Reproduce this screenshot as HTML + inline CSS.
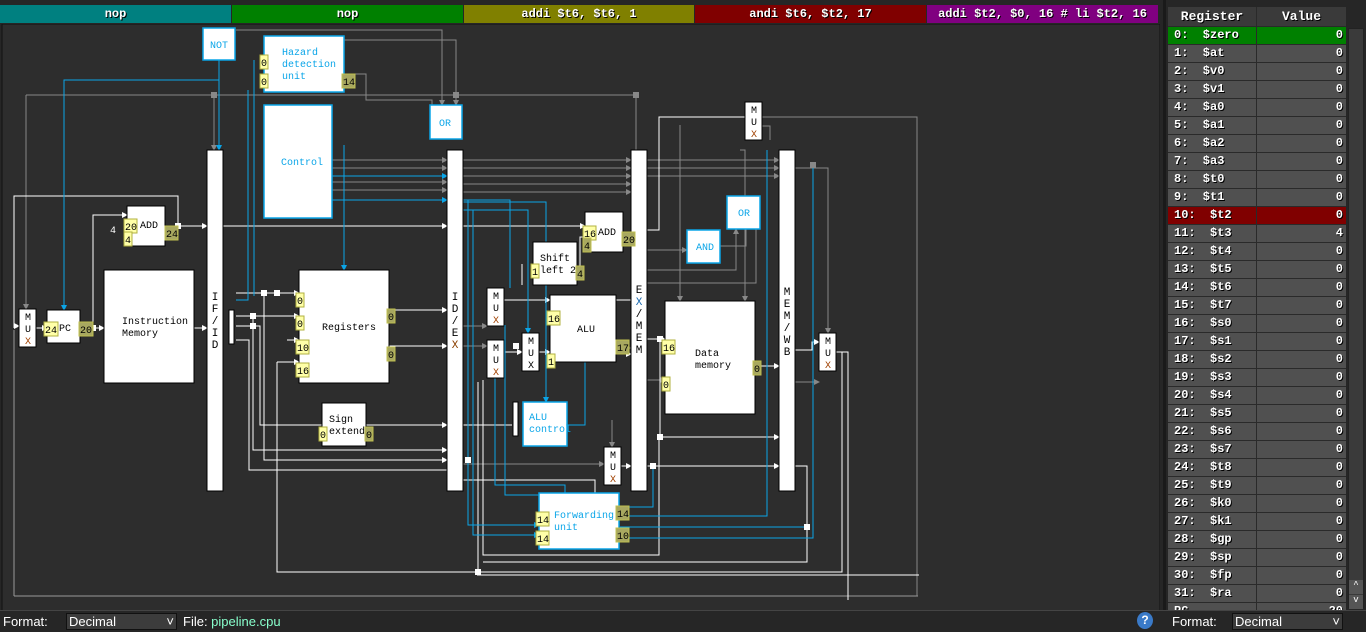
<!DOCTYPE html>
<html><head><meta charset="utf-8"><style>
*{margin:0;padding:0;box-sizing:border-box}
body{width:1366px;height:632px;background:#262626;overflow:hidden;font-family:"Liberation Mono",monospace;position:relative}
.seg{position:absolute;top:5px;height:18px;color:#fff;font:bold 12px "Liberation Mono",monospace;text-align:center;line-height:18px;text-shadow:1px 1px 0 #000}
#reg{position:absolute;left:1168px;top:7px;width:178px}
.row{height:18px;display:flex;border-bottom:1px solid #2a2a2a;font:bold 12px "Liberation Mono",monospace;color:#fff;text-shadow:1px 1px 0 #000;line-height:17px}
.row div:first-child{width:89px;padding-left:6px;border-right:1px solid #2a2a2a}
.row div:last-child{flex:1;text-align:right;padding-right:3px}
.bot{position:absolute;top:612px;height:20px;color:#fff;font:13px "Liberation Sans",sans-serif;line-height:20px}
.sel{position:absolute;top:613px;height:17px;background:#3c3c3c;border:1px solid #111;color:#fff;font:13px "Liberation Sans",sans-serif;line-height:15px;padding-left:2px}
</style></head><body>
<div class="seg" style="left:0;width:231px;background:#008080">nop</div>
<div class="seg" style="left:232px;width:231px;background:#008000">nop</div>
<div class="seg" style="left:464px;width:230px;background:#808000">addi $t6, $t6, 1</div>
<div class="seg" style="left:695px;width:231px;background:#800000">andi $t6, $t2, 17</div>
<div class="seg" style="left:927px;width:231px;background:#800080">addi $t2, $0, 16 # li $t2, 16</div>

<svg width="1160" height="588" style="position:absolute;left:0;top:24px" viewBox="0 24 1160 588" font-family="Liberation Mono, monospace" font-size="10">
<defs>
<marker id="aw" markerWidth="6" markerHeight="6" refX="5" refY="3" orient="auto"><path d="M0,0L6,3L0,6z" fill="#fff"/></marker>
<marker id="ag" markerWidth="6" markerHeight="6" refX="5" refY="3" orient="auto"><path d="M0,0L6,3L0,6z" fill="#888"/></marker>
<marker id="ab" markerWidth="6" markerHeight="6" refX="5" refY="3" orient="auto"><path d="M0,0L6,3L0,6z" fill="#0aa5e8"/></marker>
</defs>
<rect x="2" y="24" width="1158" height="588" fill="#2d2d2d" stroke="#111"/>
<line x1="14" y1="596" x2="918" y2="596" stroke="#999" stroke-width="1"/>
<line x1="14" y1="330" x2="14" y2="596" stroke="#999" stroke-width="1"/>
<!-- gray wires -->
<g fill="none" stroke="#888" stroke-width="1">
<polyline points="917,596 917,117 760,117"/>
<polyline points="26,95 636,95 636,150"/>
<polyline points="26,95 26,309" marker-end="url(#ag)"/>
<polyline points="236,30 442,30 442,105" marker-end="url(#ag)"/>
<polyline points="344,40 456,40 456,105" marker-end="url(#ag)"/>
<polyline points="214,95 214,150" marker-end="url(#ag)"/>
<polyline points="344,74 366,74 366,100 432,100 432,105"/>
<polyline points="332,160 447,160" marker-end="url(#ag)"/>
<polyline points="332,168 447,168" marker-end="url(#ag)"/>
<polyline points="332,182 447,182" marker-end="url(#ag)"/>
<polyline points="332,190 447,190" marker-end="url(#ag)"/>
<polyline points="463,160 631,160" marker-end="url(#ag)"/>
<polyline points="463,168 631,168" marker-end="url(#ag)"/>
<polyline points="463,176 631,176" marker-end="url(#ag)"/>
<polyline points="463,184 631,184" marker-end="url(#ag)"/>
<polyline points="463,192 631,192" marker-end="url(#ag)"/>
<polyline points="647,160 779,160" marker-end="url(#ag)"/>
<polyline points="647,168 779,168" marker-end="url(#ag)"/>
<polyline points="647,176 779,176" marker-end="url(#ag)"/>
<polyline points="795,168 828,168 828,333" marker-end="url(#ag)"/>
<polyline points="616,348 631,348"/>
<polyline points="647,250 687,250" marker-end="url(#ag)"/>
<polyline points="647,270 736,270 736,229" marker-end="url(#ag)"/>
<polyline points="720,246 746,246 746,229"/>
<polyline points="647,283 756,283 756,229"/>
<polyline points="680,125 680,301" marker-end="url(#ag)"/>
<polyline points="740,150 745,150 745,301" marker-end="url(#ag)"/>
<polyline points="463,326 487,326" marker-end="url(#ag)"/>
<polyline points="463,346 487,346" marker-end="url(#ag)"/>
<polyline points="463,464 604,464" marker-end="url(#ag)"/>
<polyline points="612,420 612,447" marker-end="url(#ag)"/>
<polyline points="647,380 665,380" marker-end="url(#ag)"/>
<polyline points="795,382 819,382" marker-end="url(#ag)"/>
<polyline points="760,102 760,126 770,126 770,140"/>
</g>
<!-- white wires -->
<g fill="none" stroke="#fff" stroke-width="1">
<polyline points="14,328 14,196 178,196 178,226"/>
<polyline points="14,326 19,326" marker-end="url(#aw)"/>
<polyline points="36,328 47,328" marker-end="url(#aw)"/>
<polyline points="80,328 104,328" marker-end="url(#aw)"/>
<polyline points="93,328 93,215 127,215" marker-end="url(#aw)"/>
<polyline points="165,226 207,226" marker-end="url(#aw)"/>
<polyline points="194,328 207,328" marker-end="url(#aw)"/>
<polyline points="223,226 447,226" marker-end="url(#aw)"/>
<polyline points="463,226 585,226" marker-end="url(#aw)"/>
<polyline points="236,293 299,293" marker-end="url(#aw)"/>
<polyline points="236,316 299,316" marker-end="url(#aw)"/>
<polyline points="236,326 260,326 260,425 322,425"/>
<polyline points="236,340 249,340 249,470 447,470"/>
<polyline points="287,340 299,340" marker-end="url(#aw)"/>
<polyline points="277,362 299,362" marker-end="url(#aw)"/>
<polyline points="277,362 277,572 842,572 842,352 819,352"/>
<polyline points="264,293 264,460 447,460" marker-end="url(#aw)"/>
<polyline points="253,316 253,450 447,450" marker-end="url(#aw)"/>
<polyline points="389,310 447,310" marker-end="url(#aw)"/>
<polyline points="389,346 447,346" marker-end="url(#aw)"/>
<polyline points="366,425 447,425" marker-end="url(#aw)"/>
<polyline points="463,425 512,425"/>
<polyline points="504,300 550,300" marker-end="url(#aw)"/>
<polyline points="504,352 522,352" marker-end="url(#aw)"/>
<polyline points="539,352 550,352" marker-end="url(#aw)"/>
<polyline points="463,480 595,480 595,520 544,520"/>
<polyline points="483,380 483,555 659,555 659,437"/>
<polyline points="478,382 478,572"/>
<polyline points="616,354 631,354" marker-end="url(#aw)"/>
<polyline points="522,264 522,285"/>
<polyline points="577,272 580,272 580,237 585,237"/>
<polyline points="621,466 631,466" marker-end="url(#aw)"/>
<polyline points="647,466 779,466" marker-end="url(#aw)"/>
<polyline points="795,466 807,466 807,562 483,562"/>
<polyline points="647,339 665,339" marker-end="url(#aw)"/>
<polyline points="660,339 660,437 779,437" marker-end="url(#aw)"/>
<polyline points="755,366 779,366" marker-end="url(#aw)"/>
<polyline points="647,230 659,230 659,117 745,117"/>
<polyline points="795,350 812,350 812,342 819,342" marker-end="url(#aw)"/>
<polyline points="836,352 848,352 848,600"/>
<polyline points="477,575 919,575"/>
<polyline points="616,300 631,300"/>
</g>
<!-- blue wires -->
<g fill="none" stroke="#0aa5e8" stroke-width="1">
<polyline points="219,60 219,80 64,80 64,310" marker-end="url(#ab)"/>
<polyline points="219,80 219,150" marker-end="url(#ab)"/>
<polyline points="248,90 248,300 236,300"/>
<polyline points="254,60 254,296"/>
<polyline points="344,145 344,270" marker-end="url(#ab)"/>
<polyline points="332,176 447,176" marker-end="url(#ab)"/>
<polyline points="332,200 447,200" marker-end="url(#ab)"/>
<polyline points="463,200 510,200 510,288"/>
<polyline points="463,210 528,210 528,333" marker-end="url(#ab)"/>
<polyline points="463,202 546,202 546,402" marker-end="url(#ab)"/>
<polyline points="468,200 468,525 539,525" marker-end="url(#ab)"/>
<polyline points="473,210 473,535 539,535" marker-end="url(#ab)"/>
<polyline points="495,378 495,485 565,485 565,493"/>
<polyline points="505,325 505,495 590,495 590,493"/>
<polyline points="567,425 585,425 585,362"/>
<polyline points="620,507 653,507 653,466"/>
<polyline points="620,516 767,516 767,150"/>
<polyline points="620,527 807,527"/>
<polyline points="620,538 813,538 813,168"/>
</g>
<!-- junction squares -->
<g fill="#fff">
<rect x="90" y="325" width="6" height="6"/><rect x="175" y="223" width="6" height="6"/>
<rect x="261" y="290" width="6" height="6"/><rect x="250" y="313" width="6" height="6"/>
<rect x="274" y="290" width="6" height="6"/><rect x="250" y="323" width="6" height="6"/>
<rect x="465" y="457" width="6" height="6"/><rect x="513" y="343" width="6" height="6"/>
<rect x="657" y="336" width="6" height="6"/><rect x="657" y="434" width="6" height="6"/>
<rect x="650" y="463" width="6" height="6"/><rect x="475" y="569" width="6" height="6"/>
<rect x="804" y="524" width="6" height="6"/>
</g>
<g fill="#888"><rect x="211" y="92" width="6" height="6"/><rect x="633" y="92" width="6" height="6"/><rect x="453" y="92" width="6" height="6"/><rect x="227" y="29" width="6" height="6"/><rect x="810" y="162" width="6" height="6"/></g>
<!-- pipeline bars -->
<g fill="#fff" stroke="#000">
<rect x="207" y="150" width="16" height="341"/><rect x="447" y="150" width="16" height="341"/>
<rect x="631" y="150" width="16" height="341"/><rect x="779" y="150" width="16" height="341"/>
<rect x="229" y="310" width="5" height="34"/><rect x="513" y="402" width="5" height="34"/>
</g>
<g font-size="11" fill="#000" text-anchor="middle">
<text x="215" y="300">I</text><text x="215" y="312">F</text><text x="215" y="324">/</text><text x="215" y="336">I</text><text x="215" y="348">D</text>
<text x="455" y="300">I</text><text x="455" y="312">D</text><text x="455" y="324">/</text><text x="455" y="336">E</text><text x="455" y="348" fill="#8a4000">X</text>
<text x="639" y="293">E</text><text x="639" y="305" fill="#1b6ab0">X</text><text x="639" y="317">/</text><text x="639" y="329">M</text><text x="639" y="341">E</text><text x="639" y="353">M</text>
<text x="787" y="295">M</text><text x="787" y="307">E</text><text x="787" y="319">M</text><text x="787" y="331">/</text><text x="787" y="343">W</text><text x="787" y="355">B</text>
</g>
<!-- blue-bordered boxes -->
<g fill="#fff" stroke="#0aa5e8" stroke-width="1.5">
<rect x="203" y="28" width="32" height="32"/><rect x="264" y="36" width="80" height="56"/>
<rect x="264" y="105" width="68" height="113"/><rect x="430" y="105" width="32" height="34"/>
<rect x="523" y="402" width="44" height="44"/><rect x="539" y="493" width="80" height="56"/>
<rect x="687" y="230" width="33" height="33"/><rect x="727" y="196" width="33" height="33"/>
</g>
<g fill="#0aa5e8" font-size="10">
<text x="210" y="48">NOT</text><text x="282" y="55">Hazard</text><text x="282" y="67">detection</text><text x="282" y="79">unit</text>
<text x="281" y="165">Control</text><text x="439" y="126">OR</text>
<text x="529" y="420">ALU</text><text x="529" y="432">control</text>
<text x="554" y="518">Forwarding</text><text x="554" y="530">unit</text>
<text x="696" y="250">AND</text><text x="738" y="216">OR</text>
</g>
<!-- black-bordered boxes -->
<g fill="#fff" stroke="#000">
<rect x="127" y="206" width="38" height="40"/><rect x="19" y="309" width="17" height="38"/>
<rect x="47" y="310" width="33" height="33"/><rect x="104" y="270" width="90" height="113"/>
<rect x="299" y="270" width="90" height="113"/><rect x="322" y="403" width="44" height="43"/>
<rect x="533" y="242" width="44" height="43"/><rect x="585" y="212" width="38" height="40"/>
<rect x="487" y="288" width="17" height="38"/><rect x="487" y="340" width="17" height="38"/>
<rect x="522" y="333" width="17" height="38"/><rect x="550" y="295" width="66" height="67"/>
<rect x="604" y="447" width="17" height="38"/><rect x="665" y="301" width="90" height="113"/>
<rect x="745" y="102" width="17" height="38"/><rect x="819" y="333" width="17" height="38"/>
</g>
<g fill="#000" font-size="10">
<text x="140" y="228">ADD</text><text x="59" y="331">PC</text>
<text x="122" y="324">Instruction</text><text x="122" y="336">Memory</text>
<text x="322" y="330">Registers</text><text x="329" y="422">Sign</text><text x="329" y="434">extend</text>
<text x="540" y="261">Shift</text><text x="540" y="273">left 2</text><text x="598" y="235">ADD</text>
<text x="577" y="332">ALU</text><text x="695" y="356">Data</text><text x="695" y="368">memory</text>
<text x="110" y="233" fill="#fff">4</text>
</g>
<g font-size="10" text-anchor="middle">
<g fill="#000"><text x="28" y="320">M</text><text x="28" y="332">U</text><text x="28" y="344" fill="#a04000">X</text></g>
<g fill="#000"><text x="496" y="299">M</text><text x="496" y="311">U</text><text x="496" y="323" fill="#a04000">X</text></g>
<g fill="#000"><text x="496" y="351">M</text><text x="496" y="363">U</text><text x="496" y="375" fill="#a04000">X</text></g>
<g fill="#000"><text x="531" y="344">M</text><text x="531" y="356">U</text><text x="531" y="368">X</text></g>
<g fill="#000"><text x="613" y="458">M</text><text x="613" y="470">U</text><text x="613" y="482" fill="#a04000">X</text></g>
<g fill="#000"><text x="754" y="113">M</text><text x="754" y="125">U</text><text x="754" y="137" fill="#a04000">X</text></g>
<g fill="#000"><text x="828" y="344">M</text><text x="828" y="356">U</text><text x="828" y="368" fill="#a04000">X</text></g>
</g>
<!-- value labels -->
<g font-size="10" fill="#000">
<g fill="#ffffa8" stroke="#b0b040">
<rect x="124" y="219" width="13" height="14"/><rect x="124" y="232" width="8" height="14"/><rect x="44" y="322" width="14" height="14"/>
<rect x="260" y="55" width="8" height="14"/><rect x="260" y="74" width="8" height="14"/>
<rect x="296" y="293" width="8" height="14"/><rect x="296" y="316" width="8" height="14"/><rect x="296" y="340" width="13" height="14"/><rect x="296" y="363" width="13" height="14"/>
<rect x="319" y="427" width="8" height="14"/><rect x="531" y="264" width="8" height="14"/><rect x="583" y="226" width="13" height="14"/>
<rect x="547" y="311" width="13" height="14"/><rect x="547" y="354" width="8" height="14"/><rect x="662" y="340" width="13" height="14"/><rect x="662" y="377" width="8" height="14"/>
<rect x="536" y="512" width="13" height="14"/><rect x="536" y="531" width="13" height="14"/>
</g>
<g fill="#a8a860" stroke="#c0c050">
<rect x="165" y="226" width="13" height="14"/><rect x="79" y="322" width="14" height="14"/><rect x="342" y="74" width="13" height="14"/>
<rect x="387" y="309" width="8" height="14"/><rect x="387" y="347" width="8" height="14"/><rect x="365" y="427" width="8" height="14"/>
<rect x="576" y="266" width="8" height="14"/><rect x="583" y="238" width="8" height="14"/><rect x="622" y="232" width="13" height="14"/>
<rect x="616" y="340" width="13" height="14"/><rect x="753" y="361" width="8" height="14"/>
<rect x="616" y="506" width="13" height="14"/><rect x="616" y="528" width="13" height="14"/>
</g>
<text x="125" y="230">20</text><text x="125" y="243">4</text><text x="45" y="333">24</text>
<text x="261" y="66">0</text><text x="261" y="85">0</text>
<text x="297" y="304">0</text><text x="297" y="327">0</text><text x="297" y="351">10</text><text x="297" y="374">16</text>
<text x="320" y="438">0</text><text x="532" y="275">1</text><text x="584" y="237">16</text>
<text x="548" y="322">16</text><text x="548" y="365">1</text><text x="663" y="351">16</text><text x="663" y="388">0</text>
<text x="537" y="523">14</text><text x="537" y="542">14</text>
<text x="166" y="237">24</text><text x="80" y="333">20</text><text x="343" y="85">14</text>
<text x="388" y="320">0</text><text x="388" y="358">0</text><text x="366" y="438">0</text>
<text x="577" y="277">4</text><text x="584" y="249">4</text><text x="623" y="243">20</text>
<text x="617" y="351">17</text><text x="754" y="372">0</text>
<text x="617" y="517">14</text><text x="617" y="539">10</text>
</g>
</svg>

<!-- register panel -->
<div style="position:absolute;left:1163px;top:0;width:3px;height:632px;background:#1a1a1a"></div>
<div id="reg">
<div class="row" style="height:20px;background:#3a3a3a;font-size:13px;line-height:20px"><div style="text-align:center;padding:0">Register</div><div style="text-align:center;padding:0">Value</div></div>
</div>
<div style="position:absolute;left:1348px;top:28px;width:16px;height:580px;background:#3a3a3a;border:1px solid #222"></div>
<div style="position:absolute;left:1349px;top:580px;width:14px;height:14px;background:#555;color:#fff;font-size:9px;text-align:center">^</div>
<div style="position:absolute;left:1349px;top:595px;width:14px;height:14px;background:#555;color:#fff;font-size:9px;text-align:center">v</div>
<script>
var n=["$zero","$at","$v0","$v1","$a0","$a1","$a2","$a3","$t0","$t1","$t2","$t3","$t4","$t5","$t6","$t7","$s0","$s1","$s2","$s3","$s4","$s5","$s6","$s7","$t8","$t9","$k0","$k1","$gp","$sp","$fp","$ra"];
var h="";for(var i=0;i<32;i++){var bg=i==0?"#008000":i==10?"#800000":"#505050";h+='<div class="row" style="background:'+bg+'"><div>'+i+':&nbsp;&nbsp;'+n[i]+'</div><div>'+(i==11?4:0)+'</div></div>';}
h+='<div class="row" style="background:#505050;height:8px;overflow:hidden"><div>PC</div><div>20</div></div>';
document.getElementById("reg").innerHTML+=h;
</script>
<!-- bottom bar -->
<div style="position:absolute;left:0;top:610px;width:1366px;height:22px;background:#262626;border-top:1px solid #444"></div>
<div class="bot" style="left:3px">Format:</div>
<div class="sel" style="left:66px;width:111px">Decimal<span style="position:absolute;right:2px">&#709;</span></div>
<div class="bot" style="left:183px">File: <span style="color:#8fc">pipeline.cpu</span></div>
<div style="position:absolute;left:1137px;top:612px;width:16px;height:17px;border-radius:50%;background:#3a7ac8;color:#fff;font:bold 12px sans-serif;text-align:center;line-height:17px">?</div>
<div class="bot" style="left:1172px">Format:</div>
<div class="sel" style="left:1232px;width:111px">Decimal<span style="position:absolute;right:2px">&#709;</span></div>
</body></html>
